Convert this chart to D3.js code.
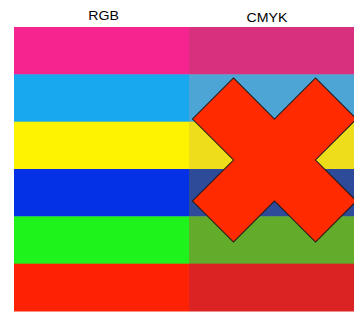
<!DOCTYPE html>
<html>
<head>
<meta charset="utf-8">
<script src="https://cdn.jsdelivr.net/npm/d3@7"></script>
<style>
  body { margin: 0; background: #fff; }
  svg { display: block; }
</style>
</head>
<body>
<svg id="chart"></svg>
<script>
// colour stripes, top to bottom
const swatches = ["Magenta", "Cyan", "Yellow", "Blue", "Green", "Red"];
const columns = ["RGB", "CMYK"];
const rgbColors = ["#f5248e", "#17a8ef", "#fef301", "#0531e6", "#1ef31c", "#fe2205"];
const cmykColors = ["#d8307e", "#4ca5d4", "#eedd1a", "#2e4b9a", "#62ab2b", "#da2322"];

const width = 354, height = 312;

const svg = d3.select("#chart")
    .attr("width", width)
    .attr("height", height);

const x = d3.scaleBand()
    .domain(columns)
    .range([14, 364]);

const y = d3.scaleBand()
    .domain(swatches)
    .range([27, 311]);

const colorsFor = { RGB: rgbColors, CMYK: cmykColors };

const cells = [];
columns.forEach(c => {
    swatches.forEach((s, i) => cells.push({ col: c, row: s, color: colorsFor[c][i] }));
});

svg.selectAll(".cell")
    .data(cells)
    .enter()
    .append("rect")
    .attr("class", "cell")
    .attr("x", d => x(d.col))
    .attr("y", d => y(d.row))
    .attr("width", x.bandwidth())
    .attr("height", y.bandwidth() + 0.5)
    .attr("fill", d => d.color);

// column headings (text looks stretched sideways in the original)
svg.selectAll(".head")
    .data(columns)
    .enter()
    .append("text")
    .attr("class", "head")
    .attr("transform", (d, i) => `translate(${i === 0 ? 103.5 : 267},${i === 0 ? 20 : 22}) scale(1.18,1)`)
    .attr("text-anchor", "middle")
    .attr("font-family", "Liberation Sans, Arial, sans-serif")
    .attr("font-size", 12)
    .attr("fill", "#000")
    .text(d => d);

// big red cross over the CMYK column
svg.append("path")
    .attr("d", d3.symbol(d3.symbolCross, 16820)())
    .attr("transform", "translate(274.5,160) rotate(45)")
    .attr("fill", "#ff2a00")
    .attr("stroke", "#1a1a1a")
    .attr("stroke-width", 1);
</script>
</body>
</html>
